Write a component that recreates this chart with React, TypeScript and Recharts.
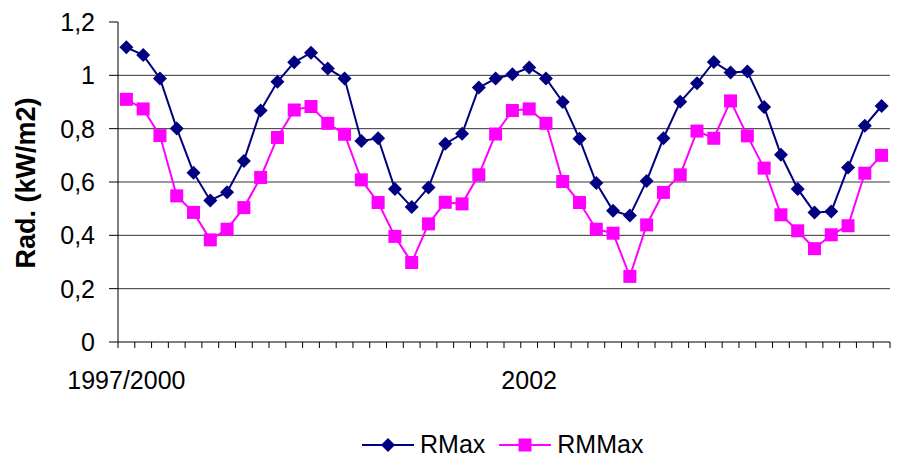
import { LineChart, Line, XAxis, YAxis, CartesianGrid, Legend } from "recharts";

// monthly maximum radiation, kW/m2
const rMax = [
  1.105, 1.076, 0.988, 0.801, 0.635, 0.531, 0.562, 0.679, 0.868, 0.976,
  1.049, 1.085, 1.026, 0.988, 0.754, 0.764, 0.574, 0.506, 0.579, 0.743,
  0.781, 0.954, 0.988, 1.004, 1.029, 0.988, 0.9, 0.762, 0.596, 0.492,
  0.474, 0.604, 0.764, 0.901, 0.97, 1.05, 1.011, 1.014, 0.881, 0.702,
  0.574, 0.486, 0.489, 0.654, 0.811, 0.885,
];
const rmMax = [
  0.91, 0.874, 0.774, 0.548, 0.486, 0.383, 0.423, 0.504, 0.617, 0.767,
  0.87, 0.883, 0.82, 0.779, 0.608, 0.523, 0.396, 0.298, 0.443, 0.524,
  0.518, 0.627, 0.78, 0.868, 0.874, 0.82, 0.602, 0.523, 0.423, 0.408,
  0.246, 0.439, 0.561, 0.627, 0.791, 0.764, 0.904, 0.773, 0.652, 0.477,
  0.417, 0.35, 0.402, 0.436, 0.633, 0.7,
];
const xTickLabels: Record<number, string> = { 0: "1997/2000", 24: "2002" };
const yTicks = [0, 0.2, 0.4, 0.6, 0.8, 1.0, 1.2];
const gridValues = [0.2, 0.4, 0.6, 0.8, 1.0];

const data = rMax.map((v, i) => ({ period: i, RMax: v, RMMax: rmMax[i] }));

const W = 901;
const H = 460;
const M = { top: 22, right: 11, left: 0, bottom: 0 };
const Y_W = 118;
const X_H = 118;
const FONT = "'Liberation Sans', Arial, sans-serif";
const NAVY = "#000080";
const PINK = "#FF00FF";
const HALF_BAND = (W - Y_W - M.right) / data.length / 2;

const Diamond = ({ cx, cy, r = 7 }: any) => (
  <polygon points={`${cx},${cy - r} ${cx + r},${cy} ${cx},${cy + r} ${cx - r},${cy}`} fill={NAVY} />
);
const Square = ({ cx, cy, s = 6.5 }: any) => (
  <rect x={cx - s} y={cy - s} width={s * 2} height={s * 2} fill={PINK} />
);

// tick marks sit on category boundaries, labels on category centres
const XTick = ({ x, y, index }: any) => {
  const label = xTickLabels[index];
  return (
    <g>
      <line x1={x - HALF_BAND} y1={y} x2={x - HALF_BAND} y2={y + 6} stroke="#000" />
      {index === data.length - 1 && (
        <line x1={x + HALF_BAND} y1={y} x2={x + HALF_BAND} y2={y + 6} stroke="#000" />
      )}
      {label && (
        <text x={x} y={y + 47} textAnchor="middle" fontSize={25} fontFamily={FONT} fill="#000">
          {label}
        </text>
      )}
    </g>
  );
};

const LegendContent = () => (
  <div style={{ display: "flex", alignItems: "center", fontFamily: FONT, fontSize: 25 }}>
    <svg width={52} height={20}>
      <line x1={0} y1={10} x2={52} y2={10} stroke={NAVY} strokeWidth={2} />
      <Diamond cx={26} cy={10} r={7} />
    </svg>
    <span style={{ marginLeft: 6, marginRight: 14 }}>RMax</span>
    <svg width={52} height={20}>
      <line x1={0} y1={10} x2={52} y2={10} stroke={PINK} strokeWidth={2} />
      <Square cx={26} cy={10} s={6.5} />
    </svg>
    <span style={{ marginLeft: 6 }}>RMMax</span>
  </div>
);

export default function App() {
  return (
    <div style={{ position: "absolute", left: 0, top: 0, background: "#fff" }}>
      <LineChart width={W} height={H} data={data} margin={M}>
        <CartesianGrid vertical={false} horizontalValues={gridValues} stroke="#333" strokeWidth={1} />
        <XAxis
          dataKey="period"
          scale="band"
          interval={0}
          height={X_H}
          tickSize={0}
          tickMargin={0}
          tickLine={false}
          tick={<XTick />}
          axisLine={{ stroke: "#000" }}
        />
        <YAxis
          width={Y_W}
          domain={[0, 1.2]}
          ticks={yTicks}
          interval={0}
          tickSize={9}
          tickMargin={14}
          tickFormatter={(v: number) => String(v).replace(".", ",")}
          tick={{ fontSize: 25, fontFamily: FONT, fill: "#000" }}
          tickLine={{ stroke: "#000" }}
          axisLine={{ stroke: "#000" }}
          label={{
            content: () => (
              <text
                x={35}
                y={183}
                transform="rotate(-90, 35, 183)"
                textAnchor="middle"
                fontSize={27}
                fontWeight="bold"
                fontFamily={FONT}
                fill="#000"
              >
                Rad. (kW/m2)
              </text>
            ),
          }}
        />
        <Legend
          layout="horizontal"
          verticalAlign="middle"
          align="center"
          content={<LegendContent />}
          wrapperStyle={{ left: 362, top: 430, width: 330, height: 30 }}
        />
        <Line
          dataKey="RMax"
          stroke={NAVY}
          strokeWidth={2}
          dot={(p: any) => <Diamond key={`d${p.index}`} cx={p.cx} cy={p.cy} />}
          isAnimationActive={false}
        />
        <Line
          dataKey="RMMax"
          stroke={PINK}
          strokeWidth={2}
          dot={(p: any) => <Square key={`s${p.index}`} cx={p.cx} cy={p.cy} />}
          isAnimationActive={false}
        />
      </LineChart>
    </div>
  );
}
